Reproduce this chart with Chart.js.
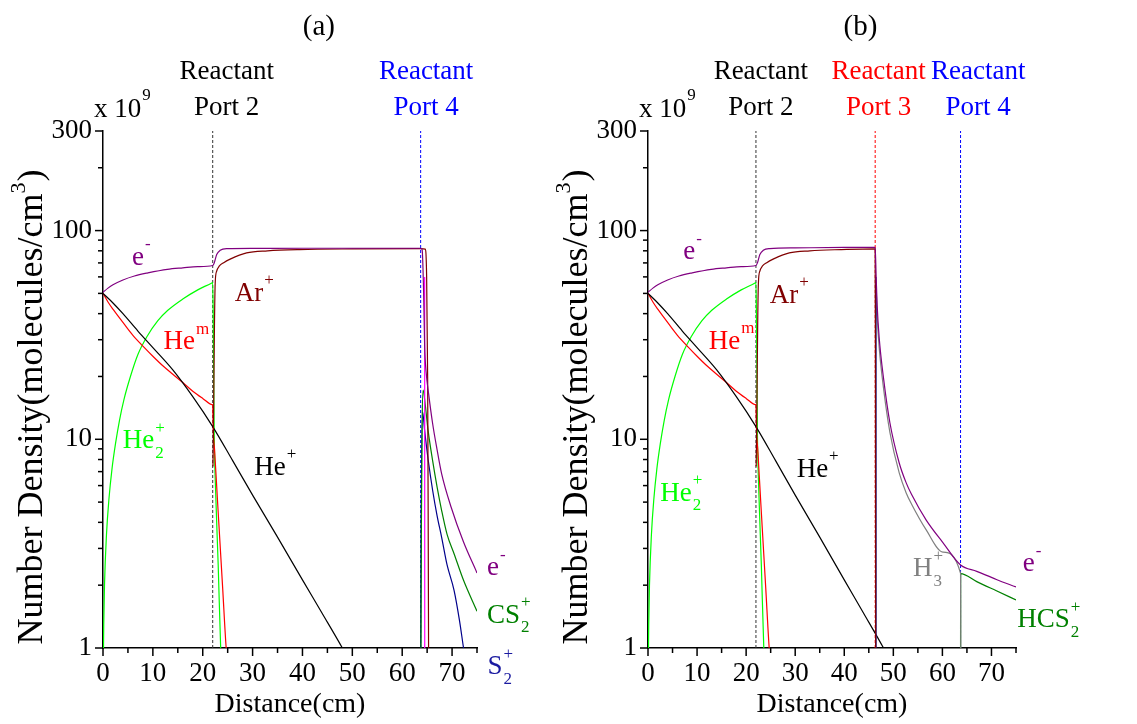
<!DOCTYPE html>
<html lang="en">
<head>
<meta charset="UTF-8">
<title>Number density vs distance</title>
<style>
    body { margin: 0; background: #ffffff; }
    .panel { position: absolute; top: 0; }
    #panelA { left: 0; }
    #panelB { left: 545px; }
</style>
</head>
<body>
<div class="panel" id="panelA"><canvas id="chartA" width="545" height="724"></canvas></div>
<div class="panel" id="panelB"><canvas id="chartB" width="592" height="724"></canvas></div>
<script src="https://cdn.jsdelivr.net/npm/chart.js"></script>
<script>
// ---- data (x in cm, y in 1e9 molecules/cm3) ----
// part before the Ar port, same in both panels
const hePlusX = [0, 2, 4, 7, 10, 14, 18, 22, 26, 30, 35, 40, 44, 48, 48.6];
const hePlusY = [50, 45, 40, 33, 27.5, 21.5, 16, 11.5, 7.9, 5.4, 3.4, 2.12, 1.46, 1.0, 0.94];
const hemX = [0, 1, 2, 3, 4.3, 6, 8.3, 10, 12, 14, 16, 18, 20, 21.9, 22, 22.1, 22.4, 23, 24, 24.7, 25];
const hemY = [50, 45.5, 42, 39, 35.5, 31.5, 27.5, 25, 22.5, 20.5, 18.7, 17, 15.7, 14.65, 14.6, 11.3, 8.7, 4.9, 1.93, 1, 0.85];
const he2X = [0.08, 0.15, 0.3, 0.7, 1.2, 1.8, 2.5, 3.3, 4.2, 5.5, 7, 8.8, 11, 13, 16, 19, 21.9, 22, 22.1, 22.2, 22.3, 22.6, 23.1, 23.6, 23.8];
const he2Y = [0.9, 1.3, 2.0, 3.5, 5.2, 7.2, 9.5, 12.3, 15.5, 20, 25.5, 31, 37, 41.5, 47, 52, 56.3, 56.5, 40, 20, 10.7, 5.5, 2.5, 1, 0.85];

// panel (a)
const elecAX = [0, 1, 2, 4, 6.3, 9, 12.9, 16, 19, 22, 22.3, 22.8, 23.5, 24.8, 30, 40, 50, 63.5, 63.7, 64.0, 64.3, 64.5, 64.8, 65.3, 66.1, 67, 67.9, 69.8, 72.3, 75];
const elecAY = [50.6, 53, 55, 58, 60.6, 62.7, 65.2, 66.3, 67.2, 68, 70, 76.8, 80.5, 82, 82.2, 82.3, 82.3, 82.3, 82.3, 81, 50, 28, 21, 16.5, 11.9, 8.9, 6.85, 4.74, 3.22, 2.29];
const arAX = [22.05, 22.2, 22.35, 22.5, 22.8, 23.3, 24.2, 25.5, 28.8, 33, 39.4, 50, 63.7, 64.6, 64.9, 65.1, 65.2, 65.3];
const arAY = [7.4, 15, 35, 56, 64, 67.5, 70.2, 73, 78.2, 80, 81.1, 81.7, 82, 81.5, 60, 20, 5, 0.8];
const cs2X = [63.75, 63.85, 64.0, 64.2, 64.6, 65.2, 66.1, 67, 67.9, 69, 70.4, 72.3, 75];
const cs2Y = [0.8, 4, 12, 17.2, 14.8, 11, 7.9, 5.9, 4.57, 3.5, 2.83, 2.11, 1.5];
const s2X = [63.7, 63.8, 64.1, 64.5, 65.2, 66.1, 67, 67.9, 69, 70.4, 71.5, 72.3, 72.6];
const s2Y = [0.8, 4, 13.5, 11, 8, 5.7, 4.3, 3.4, 2.5, 1.89, 1.35, 1.0, 0.9];
const magAX = [64.5, 64.52];
const magAY = [60, 0.8];

// panel (b)
const elecBX = [0, 1, 2, 4, 6.3, 9, 12.9, 16, 19, 22, 22.3, 22.8, 23.5, 24.8, 30, 40, 46.3, 46.5, 46.7, 47.1, 48.05, 49.3, 51.2, 52.6, 53.7, 56.7, 60.1, 63.7, 67, 71, 75];
const elecBY = [50.6, 53, 55, 58, 60.6, 62.7, 65.2, 66.3, 67.2, 68, 70, 76.8, 80.5, 82, 82.6, 83, 83, 60, 44, 31, 19.2, 12.0, 7.7, 6.2, 5.45, 4.1, 3.2, 2.5, 2.33, 2.13, 1.96];
const arBX = [22.05, 22.2, 22.35, 22.5, 22.8, 23.3, 24.2, 25.5, 28.8, 33, 39.4, 46.2, 46.3, 46.35, 46.4];
const arBY = [7.4, 15, 35, 56, 64, 67.5, 70.2, 73, 78.2, 80, 81.1, 81.8, 81.8, 30, 0.8];
const h3X = [46.4, 46.45, 46.7, 47.1, 48.05, 49.3, 51.2, 52.6, 53.7, 56.7, 60.1, 63.7, 63.73, 63.76];
const h3Y = [0.8, 55, 39, 27.8, 17.2, 10.8, 6.9, 5.55, 4.9, 3.68, 2.88, 2.28, 1.5, 0.8];
const hcs2X = [63.7, 63.72, 67, 71, 75];
const hcs2Y = [0.8, 2.27, 2.08, 1.88, 1.7];
const navyBX = [46.45, 46.47];
const navyBY = [60, 0.8];

// port positions (cm)
const portsA = [22, 63.7];
const portsB = [22, 46.3, 63.7];

// axis ticks
const xTickVals = [0, 5, 10, 15, 20, 25, 30, 35, 40, 45, 50, 55, 60, 65, 70, 75];
const xLabeled = [0, 10, 20, 30, 40, 50, 60, 70];
const yTickVals = [1, 2, 3, 4, 5, 6, 7, 8, 9, 10, 20, 30, 40, 50, 60, 70, 80, 90, 100, 200, 300];
const yLabeled = [1, 10, 100, 300];

const FONT = '"Liberation Serif", "Times New Roman", serif';
const purple = '#800080', darkRed = '#800000', red = '#ff0000', lime = '#00ff00',
      green = '#008000', navy = '#00008b', grey = '#808080', magenta = '#ff00ff', blue = '#0000ff';

function pts(xs, ys) {
    return xs.map((x, i) => ({ x: x, y: ys[i] }));
}

function curve(xs, ys, color) {
    return { data: pts(xs, ys), borderColor: color, borderWidth: 1.2, pointRadius: 0,
             fill: false, cubicInterpolationMode: 'monotone' };
}

function portLine(x, color) {
    return { data: [{ x: x, y: 1 }, { x: x, y: 300 }], borderColor: color, borderWidth: 1,
             borderDash: [3, 2], pointRadius: 0, fill: false };
}

// text with chemistry style super/subscripts, centred on the base text
function chemText(ctx, cx, cy, n) {
    ctx.font = '27px ' + FONT;
    ctx.textAlign = 'left';
    ctx.textBaseline = 'middle';
    ctx.fillStyle = n.color;
    const w = ctx.measureText(n.text).width;
    const left = cx - w / 2;
    ctx.fillText(n.text, left, cy);
    ctx.font = '17px ' + FONT;
    if (n.sup) ctx.fillText(n.sup, left + w + 1, cy - 13);
    if (n.sub) ctx.fillText(n.sub, left + w + 1, cy + 12);
}

function decorations(notes, portTexts, panelTitle) {
    return {
        id: 'decor',
        afterDraw(chart) {
            const { ctx, chartArea: ca, scales: { x, y } } = chart;
            ctx.save();
            // tick marks outside the axes
            ctx.strokeStyle = '#000';
            ctx.lineWidth = 1.5;
            x.ticks.forEach(t => {
                const px = x.getPixelForValue(t.value);
                const len = xLabeled.includes(t.value) ? 8 : 5;
                ctx.beginPath();
                ctx.moveTo(px, ca.bottom);
                ctx.lineTo(px, ca.bottom + len);
                ctx.stroke();
            });
            y.ticks.forEach(t => {
                const py = y.getPixelForValue(t.value);
                const len = yLabeled.includes(t.value) ? 8 : 5;
                ctx.beginPath();
                ctx.moveTo(ca.left, py);
                ctx.lineTo(ca.left - len, py);
                ctx.stroke();
            });

            // species labels
            notes.forEach(n => chemText(ctx, x.getPixelForValue(n.x), y.getPixelForValue(n.y), n));

            // port captions
            ctx.font = '27px ' + FONT;
            ctx.textAlign = 'center';
            ctx.textBaseline = 'middle';
            portTexts.forEach(p => {
                ctx.fillStyle = p.color;
                const px = x.getPixelForValue(p.x);
                ctx.fillText('Reactant', px, 72);
                ctx.fillText(p.port, px, 108);
            });

            // panel title
            ctx.fillStyle = '#000';
            ctx.font = '29px ' + FONT;
            ctx.fillText(panelTitle, x.getPixelForValue(43.3), 27);

            // axis multiplier
            ctx.font = '27px ' + FONT;
            ctx.textAlign = 'left';
            ctx.fillText('x 10', ca.left - 9, 110);
            const w = ctx.measureText('x 10').width;
            ctx.font = '17px ' + FONT;
            ctx.fillText('9', ca.left - 9 + w + 1, 96);

            // y axis title, rotated, with a real superscript
            ctx.translate(ca.left - 70, (ca.top + ca.bottom) / 2 + 18);
            ctx.rotate(-Math.PI / 2);
            const big = '36px ' + FONT, small = '22px ' + FONT;
            const a = 'Number Density(molecules/cm', b = '3', c = ')';
            ctx.font = big;
            const wa = ctx.measureText(a).width, wc = ctx.measureText(c).width;
            ctx.font = small;
            const wb = ctx.measureText(b).width;
            let px = -(wa + wb + wc) / 2;
            ctx.font = big;
            ctx.fillText(a, px, 0);
            ctx.font = small;
            ctx.fillText(b, px + wa, -14);
            ctx.font = big;
            ctx.fillText(c, px + wa + wb + 1, 0);
            ctx.restore();
        }
    };
}

function makeChart(id, datasets, notes, portTexts, panelTitle, padRight) {
    return new Chart(document.getElementById(id), {
        type: 'line',
        data: { datasets: datasets },
        options: {
            responsive: false,
            animation: false,
            events: [],
            layout: { padding: { left: 0, top: 131, right: padRight, bottom: 0 } },
            plugins: { legend: { display: false }, tooltip: { enabled: false } },
            scales: {
                x: {
                    type: 'linear', min: 0, max: 75,
                    afterBuildTicks: s => { s.ticks = xTickVals.map(v => ({ value: v })); },
                    afterFit: s => { s.height = 76; },
                    grid: { display: false, drawTicks: false },
                    border: { display: true, color: '#000', width: 1.5 },
                    ticks: {
                        autoSkip: false, maxRotation: 0, padding: 10, color: '#000',
                        font: { family: FONT, size: 27 },
                        callback: v => xLabeled.includes(v) ? String(v) : ''
                    },
                    title: {
                        display: true, text: 'Distance(cm)', color: '#000',
                        font: { family: FONT, size: 28 }, padding: { top: 0, bottom: 3 }
                    }
                },
                y: {
                    type: 'logarithmic', min: 1, max: 300,
                    afterBuildTicks: s => { s.ticks = yTickVals.map(v => ({ value: v })); },
                    afterFit: s => { s.width = 103; },
                    grid: { display: false, drawTicks: false },
                    border: { display: true, color: '#000', width: 1.5 },
                    ticks: {
                        autoSkip: false, padding: 11, color: '#000',
                        font: { family: FONT, size: 27 },
                        callback: v => yLabeled.includes(v) ? String(v) : ''
                    }
                }
            }
        },
        plugins: [decorations(notes, portTexts, panelTitle)]
    });
}

// ---- panel (a) ----
makeChart('chartA', [
    curve(elecAX, elecAY, purple),
    curve(arAX, arAY, darkRed),
    curve(magAX, magAY, magenta),
    curve(cs2X, cs2Y, green),
    curve(s2X, s2Y, navy),
    curve(hePlusX, hePlusY, '#000000'),
    curve(hemX, hemY, red),
    curve(he2X, he2Y, lime),
    portLine(portsA[0], '#333333'),
    portLine(portsA[1], blue)
], [
    { text: 'e', sup: '-', x: 7, y: 74, color: purple },
    { text: 'Ar', sup: '+', x: 29.3, y: 50, color: darkRed },
    { text: 'He', sup: 'm', x: 15.3, y: 29.2, color: red },
    { text: 'He', sup: '+', sub: '2', x: 7.1, y: 9.8, color: lime },
    { text: 'He', sup: '+', x: 33.5, y: 7.3, color: '#000000' },
    { text: 'e', sup: '-', x: 78.2, y: 2.41, color: purple },
    { text: 'CS', sup: '+', sub: '2', x: 80.3, y: 1.43, color: green },
    { text: 'S', sup: '+', sub: '2', x: 78.6, y: 0.81, color: '#1a1aa0' }
], [
    { x: 24.8, port: 'Port 2', color: '#000000' },
    { x: 64.8, port: 'Port 4', color: blue }
], '(a)', 68);

// ---- panel (b) ----
makeChart('chartB', [
    curve(elecBX, elecBY, purple),
    curve(arBX, arBY, darkRed),
    curve(navyBX, navyBY, navy),
    curve(h3X, h3Y, grey),
    curve(hcs2X, hcs2Y, green),
    curve(hePlusX, hePlusY, '#000000'),
    curve(hemX, hemY, red),
    curve(he2X, he2Y, lime),
    portLine(portsB[0], '#333333'),
    portLine(portsB[1], red),
    portLine(portsB[2], blue)
], [
    { text: 'e', sup: '-', x: 8.4, y: 78.9, color: purple },
    { text: 'Ar', sup: '+', x: 27.7, y: 48.6, color: darkRed },
    { text: 'He', sup: 'm', x: 15.6, y: 29.4, color: red },
    { text: 'He', sup: '+', sub: '2', x: 5.7, y: 5.47, color: lime },
    { text: 'He', sup: '+', x: 33.5, y: 7.16, color: '#000000' },
    { text: 'H', sup: '+', sub: '3', x: 56, y: 2.38, color: grey },
    { text: 'e', sup: '-', x: 77.6, y: 2.52, color: purple },
    { text: 'HCS', sup: '+', sub: '2', x: 80.6, y: 1.36, color: green }
], [
    { x: 23.0, port: 'Port 2', color: '#000000' },
    { x: 47.0, port: 'Port 3', color: red },
    { x: 67.3, port: 'Port 4', color: blue }
], '(b)', 121);
</script>
</body>
</html>
